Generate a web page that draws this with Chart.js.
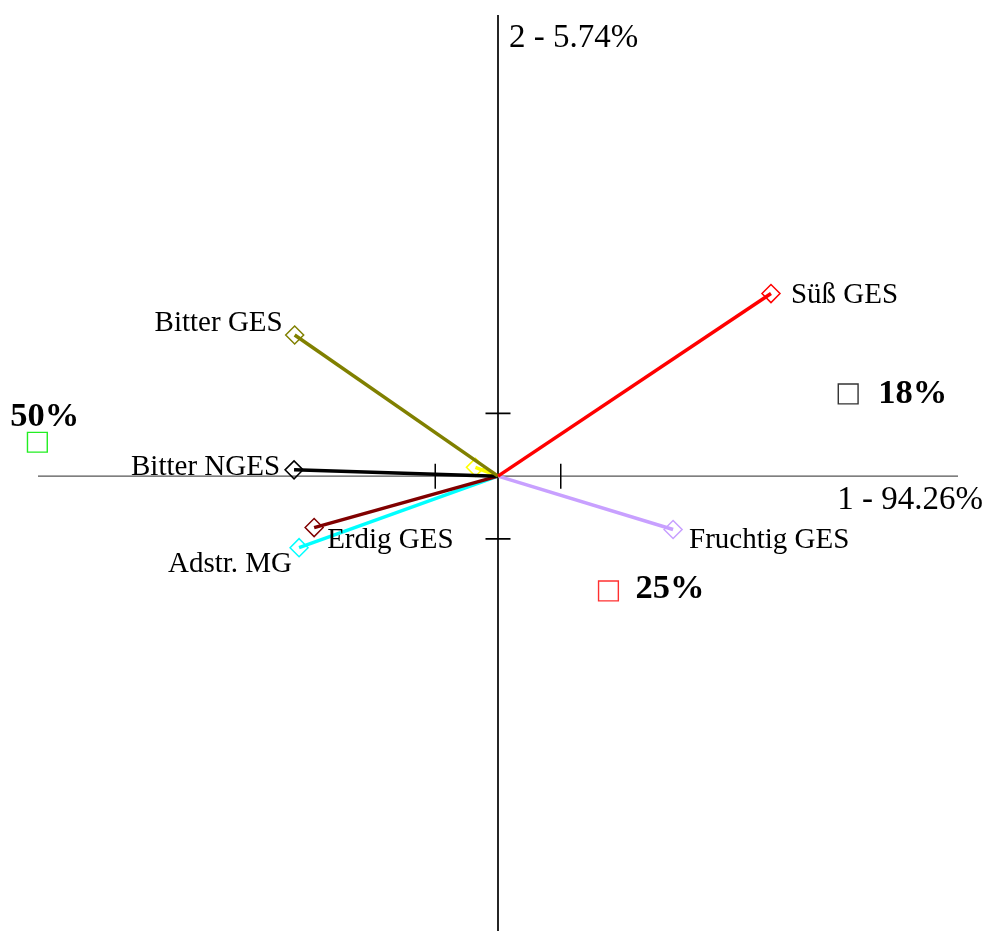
<!DOCTYPE html>
<html>
<head>
<meta charset="utf-8">
<script src="https://cdn.jsdelivr.net/npm/chart.js@4/dist/chart.umd.min.js"></script>
<style>
  html, body { margin: 0; padding: 0; background: #fff; }
  canvas { display: block; }
</style>
</head>
<body>
<canvas id="biplot" width="988" height="931"></canvas>
<script>
// Attribute loadings (vectors drawn from the origin)
const attrNames = ['Süß GES', 'Bitter GES', 'Bitter NGES', 'Erdig GES', 'Adstr. MG', 'Fruchtig GES', ''];
const attrX = [4.35, -3.24, -3.25, -2.93, -3.17, 2.79, -0.36];
const attrY = [2.91, 2.25, 0.10, -0.82, -1.14, -0.85, 0.14];

// Group centroids with their shares
const groupNames = ['50%', '18%', '25%'];
const groupX = [-7.34, 5.58, 1.76];
const groupY = [0.54, 1.31, -1.83];

// Axis titles
const axisTitleX = '1 - 94.26%';
const axisTitleY = '2 - 5.74%';
const tickValues = [-1, 1];

// Styling
const attrColors = ['#ff0000', '#808000', '#000000', '#800000', '#00ffff', '#c8a0ff', '#ffff00'];
const groupColors = ['#22ee22', '#333333', '#ff3030'];
// label placement relative to the marker: [dx, dy, align]
const attrLabelPos = [
  [20, 2, 'left'], [-12, -12, 'right'], [-14, -2, 'right'],
  [13, 13, 'left'], [-7, 17, 'right'], [16, 11, 'left'], null
];
const groupLabelPos = [[-27, -25], [30, 0], [27, -2]];

const FONT = '"Liberation Serif", "Times New Roman", serif';

const datasets = [];
attrNames.forEach((name, i) => {
  datasets.push({
    label: name || 'attr' + i,
    data: [{ x: 0, y: 0 }, { x: attrX[i], y: attrY[i] }],
    showLine: true,
    borderColor: attrColors[i],
    borderWidth: 3.5,
    pointStyle: 'rectRot',
    pointRadius: [0, 9],
    pointBorderColor: attrColors[i],
    pointBorderWidth: 1.5,
    pointBackgroundColor: 'rgba(0,0,0,0)',
    clip: false,
    order: i === attrNames.length - 1 ? 20 : i + 1
  });
});
groupNames.forEach((name, i) => {
  datasets.push({
    label: name,
    data: [{ x: groupX[i], y: groupY[i] }],
    showLine: false,
    pointStyle: 'rect',
    pointRadius: 14,
    pointBorderColor: groupColors[i],
    pointBorderWidth: 1.4,
    pointBackgroundColor: 'rgba(0,0,0,0)',
    clip: false,
    order: 30 + i
  });
});

// Cross-shaped axes through the origin with two tick marks each
const axesPlugin = {
  id: 'crossAxes',
  beforeDatasetsDraw(chart) {
    const { ctx, scales: { x, y }, chartArea } = chart;
    const ox = x.getPixelForValue(0), oy = y.getPixelForValue(0);
    ctx.save();
    ctx.lineWidth = 1.2;
    ctx.strokeStyle = '#555';
    ctx.beginPath();
    ctx.moveTo(chartArea.left, oy);
    ctx.lineTo(chartArea.right, oy);
    ctx.stroke();
    ctx.strokeStyle = '#000';
    ctx.lineWidth = 1.5;
    ctx.beginPath();
    tickValues.forEach(v => {
      const px = x.getPixelForValue(v);
      ctx.moveTo(px, oy - 12.5);
      ctx.lineTo(px, oy + 12.5);
    });
    ctx.stroke();
    ctx.lineWidth = 1.7;
    ctx.beginPath();
    ctx.moveTo(ox, chartArea.top);
    ctx.lineTo(ox, chartArea.bottom);
    tickValues.forEach(v => {
      const py = y.getPixelForValue(v);
      ctx.moveTo(ox - 12.5, py);
      ctx.lineTo(ox + 12.5, py);
    });
    ctx.stroke();

    ctx.fillStyle = '#000';
    ctx.font = '33px ' + FONT;
    ctx.textBaseline = 'alphabetic';
    ctx.textAlign = 'left';
    ctx.fillText(axisTitleY, ox + 11, chartArea.top + 32);
    ctx.textAlign = 'right';
    ctx.fillText(axisTitleX, chart.width - 5, oy + 33);
    ctx.restore();
  },
  afterDatasetsDraw(chart) {
    const { ctx } = chart;
    ctx.save();
    ctx.fillStyle = '#000';
    ctx.textBaseline = 'middle';
    ctx.font = '29px ' + FONT;
    attrNames.forEach((name, i) => {
      const pos = attrLabelPos[i];
      if (!name || !pos) return;
      const pt = chart.getDatasetMeta(i).data[1];
      ctx.textAlign = pos[2];
      ctx.fillText(name, pt.x + pos[0], pt.y + pos[1]);
    });
    ctx.font = 'bold 34.5px ' + FONT;
    ctx.textAlign = 'left';
    groupNames.forEach((name, i) => {
      const pt = chart.getDatasetMeta(attrNames.length + i).data[0];
      const pos = groupLabelPos[i];
      ctx.fillText(name, pt.x + pos[0], pt.y + pos[1]);
    });
    ctx.restore();
  }
};

new Chart(document.getElementById('biplot'), {
  type: 'scatter',
  data: { datasets },
  options: {
    responsive: false,
    animation: false,
    layout: { autoPadding: false, padding: { left: 38, right: 30, top: 15, bottom: 0 } },
    plugins: { legend: { display: false }, tooltip: { enabled: false } },
    scales: {
      x: { type: 'linear', min: -7.33, max: 7.33, display: false },
      y: { type: 'linear', min: -7.25, max: 7.35, display: false }
    }
  },
  plugins: [axesPlugin]
});
</script>
</body>
</html>
